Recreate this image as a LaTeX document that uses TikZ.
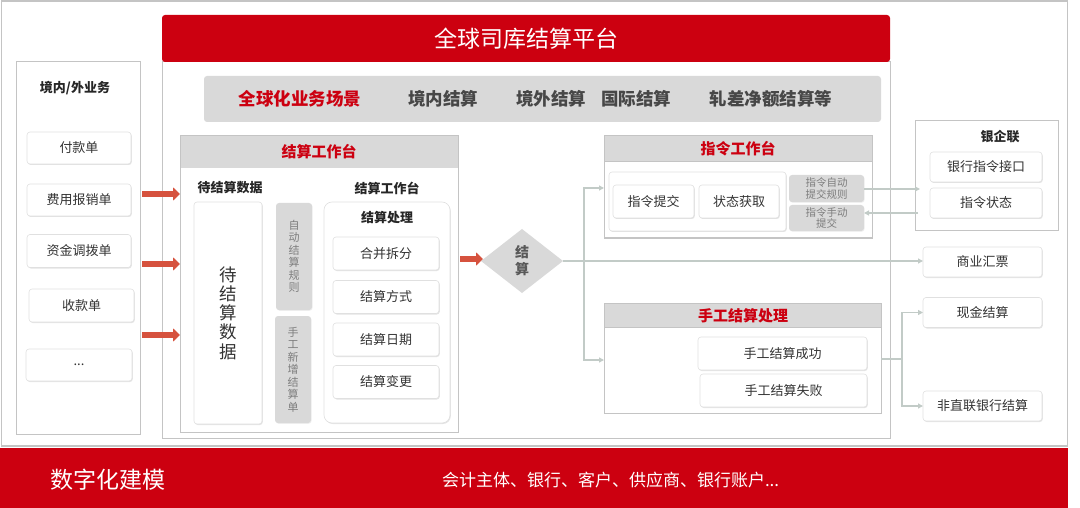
\documentclass[tikz,border=0pt]{standalone}
\usepackage{fontspec}
\setmainfont{Noto Sans CJK SC}
\usetikzlibrary{arrows.meta,shadows,shapes.geometric}
\definecolor{cred}{RGB}{204,0,16}
\definecolor{arrred}{RGB}{214,82,62}
\definecolor{lgray}{RGB}{217,217,217}
\definecolor{fgray}{RGB}{196,196,196}
\definecolor{lc}{RGB}{194,203,199}
\definecolor{txt}{RGB}{51,51,51}
\definecolor{gtxt}{RGB}{125,125,125}
\newcommand{\fsz}[1]{\fontsize{#1}{1.2\dimexpr #1pt\relax}\selectfont}
\newcommand{\fszl}[2]{\fontsize{#1}{#2}\selectfont}
\tikzset{
  every node/.style={inner sep=0pt, outer sep=0pt, text=txt},
  frame/.style={draw=fgray, line width=1pt},
  hdr/.style={fill=lgray},
  hdrtxt/.style={text=cred, font=\bfseries\fsz{15}},
  wbox/.style={draw=black!12, fill=white, rounded corners=3pt, line width=0.6pt,
    drop shadow={opacity=0.22, shadow xshift=0.8pt, shadow yshift=-1pt},
    font=\fsz{13}},
  gbox/.style={fill=lgray, rounded corners=3pt,
    drop shadow={opacity=0.12, shadow xshift=0.6pt, shadow yshift=-0.8pt},
    text=gtxt, align=center},
  lbl/.style={font=\bfseries\fsz{13}, text=black!85},
  scen/.style={font=\bfseries\fsz{17.5}, text=black!72},
  fat/.style={draw=arrred, line width=5.5pt, -{Triangle[length=7pt,width=13pt]}},
  conn/.style={draw=lc, line width=1.2pt, -{Triangle[length=5pt,width=5pt]}},
  plain/.style={draw=lc, line width=1.2pt}
}
\begin{document}
\begin{tikzpicture}[x=1pt,y=-1pt]
\useasboundingbox (0,0) rectangle (1080,508);

% outer frame and bottom band
\node[frame, line width=1.3pt, minimum width=1066pt, minimum height=445pt] (outer) at (534.5,223.5) {};
\node[fill=cred, minimum width=1068pt, minimum height=60pt] (band) at (534,478) {};
\node[text=white, font=\fsz{23}] (bt1) at (108,480) {数字化建模};
\node[text=white, font=\fsz{17}, anchor=west] (bt2) at (442,480) {会计主体、银行、客户、供应商、银行账户...};

% platform
\node[frame, minimum width=728pt, minimum height=376pt] (plat) at (526,250) {};
\node[fill=cred, rounded corners=3pt, minimum width=728pt, minimum height=47pt,
      text=white, font=\fsz{23}] (title) at (526,38.5) {全球司库结算平台};

% scenario bar
\node[fill=lgray, rounded corners=3pt, minimum width=677pt, minimum height=46pt] (scenbar) at (542.5,99) {};
\node[scen, text=cred] (s1) at (300,99) {全球化业务场景};
\node[scen] (s2) at (443,99) {境内结算};
\node[scen] (s3) at (551,99) {境外结算};
\node[scen] (s4) at (636,99) {国际结算};
\node[scen] (s5) at (771,99) {轧差净额结算等};

% left frame
\node[frame, minimum width=124pt, minimum height=372pt] (lf) at (78,248) {};
\node[lbl] (lft) at (75,88) {境内/外业务};
\node[wbox, minimum width=104pt, minimum height=32pt] (p1) at (79,148) {付款单};
\node[wbox, minimum width=104pt, minimum height=32pt] (p2) at (79,200) {费用报销单};
\node[wbox, minimum width=104pt, minimum height=33pt] (p3) at (79,251) {资金调拨单};
\node[wbox, minimum width=105pt, minimum height=33pt] (p4) at (81.5,305.5) {收款单};
\node[wbox, minimum width=106pt, minimum height=32pt] (p5) at (79,365) {...};

% settlement workbench
\node[hdr, minimum width=278pt, minimum height=32pt] (swh) at (319,152) {};
\node[frame, minimum width=278pt, minimum height=296pt] (swf) at (319,284) {};
\node[hdrtxt] (swt) at (319,152) {结算工作台};
\node[lbl] (l1) at (230,188) {待结算数据};
\node[lbl] (l2) at (387,188) {结算工作台};
\node[wbox, minimum width=68pt, minimum height=222pt, align=center, font={\fszl{17.5}{19.3}}] (dj) at (228,313) {待\\结\\算\\数\\据};
\node[gbox, minimum width=36pt, minimum height=107pt, font={\fszl{11}{12.5}}] (auto) at (294,256.5) {自\\动\\结\\算\\规\\则};
\node[gbox, minimum width=36pt, minimum height=107pt, font={\fszl{11}{12.5}}] (man) at (293,369.5) {手\\工\\新\\增\\结\\算\\单};
\node[wbox, rounded corners=8pt, minimum width=126pt, minimum height=221pt] (wb) at (387,312.5) {};
\node[lbl] (l3) at (387,218) {结算处理};
\node[wbox, minimum width=106pt, minimum height=33pt] (c1) at (386,253.5) {合并拆分};
\node[wbox, minimum width=106pt, minimum height=33pt] (c2) at (386,297) {结算方式};
\node[wbox, minimum width=106pt, minimum height=33pt] (c3) at (386,339.5) {结算日期};
\node[wbox, minimum width=106pt, minimum height=33pt] (c4) at (386,382) {结算变更};

% diamond
\node[diamond, fill=lgray, minimum width=82pt, minimum height=64pt, aspect=1.28,
      align=center, font={\bfseries\fszl{14}{17}}, text=black!65] (dm) at (522,261) {结\\算};

% instruction workbench
\node[hdr, minimum width=268pt, minimum height=27pt] (iwh) at (738,148.5) {};
\node[frame, minimum width=268pt, minimum height=76pt] (iwf) at (738,200) {};
\node[draw=fgray, line width=0.8pt, minimum width=268pt, minimum height=103pt] (iwo) at (738,186.5) {};
\node[hdrtxt] (iwt) at (738,148.5) {指令工作台};
\node[wbox, minimum width=177pt, minimum height=59pt] (iin) at (697.5,201.5) {};
\node[wbox, minimum width=81pt, minimum height=33pt] (i1) at (653.5,201.5) {指令提交};
\node[wbox, minimum width=80pt, minimum height=33pt] (i2) at (739,201.5) {状态获取};
\node[gbox, minimum width=75pt, minimum height=27pt, font={\fszl{10.5}{11.5}}] (ra) at (826.5,188.5) {指令自动\\提交规则};
\node[gbox, minimum width=75pt, minimum height=26pt, font={\fszl{10.5}{11.5}}] (rm) at (826.5,218) {指令手动\\提交};

% manual settlement
\node[hdr, minimum width=277pt, minimum height=24pt] (mwh) at (742.5,315) {};
\node[frame, minimum width=277pt, minimum height=86pt] (mwf) at (742.5,370) {};
\node[draw=fgray, line width=0.8pt, minimum width=277pt, minimum height=110pt] (mwo) at (742.5,358) {};
\node[hdrtxt] (mwt) at (743,315.5) {手工结算处理};
\node[wbox, minimum width=169pt, minimum height=33pt] (m1) at (782.5,353.5) {手工结算成功};
\node[wbox, minimum width=167pt, minimum height=33pt] (m2) at (783.5,390.5) {手工结算失败};

% right side
\node[frame, minimum width=143pt, minimum height=110pt] (yql) at (986.5,176) {};
\node[lbl] (yqt) at (1000,137) {银企联};
\node[wbox, minimum width=112pt, minimum height=30pt] (y1) at (986,167) {银行指令接口};
\node[wbox, minimum width=112pt, minimum height=30pt] (y2) at (986,203) {指令状态};
\node[wbox, minimum width=119pt, minimum height=30pt] (shp) at (982.5,262) {商业汇票};
\node[wbox, minimum width=119pt, minimum height=30pt] (cash) at (982.5,312.5) {现金结算};
\node[wbox, minimum width=119pt, minimum height=30pt] (fzl) at (982.5,406) {非直联银行结算};

% red arrows
\draw[fat] ([xshift=2pt]lf.east |- 0,194) -- (swf.west |- 0,194);
\draw[fat] ([xshift=2pt]lf.east |- 0,264) -- (swf.west |- 0,264);
\draw[fat] ([xshift=2pt]lf.east |- 0,335) -- (swf.west |- 0,335);
\draw[fat] ([xshift=2pt]swf.east |- 0,259) -- ([xshift=2pt]dm.west |- 0,259);

% connectors
\coordinate (br) at (584,261);
\draw[conn] (dm.east) -- (dm.east -| shp.west);
\draw[conn] (br) |- (iwf.west |- 0,188);
\draw[conn] (br) |- (mwf.west |- 0,360);
\coordinate (br2) at (902,359);
\draw[plain] (mwf.east |- br2) -- (br2);
\draw[conn] (br2) |- (cash.west);
\draw[conn] (br2) |- (fzl.west);
\draw[conn] (ra.east |- 0,189) -- ([xshift=5pt]yql.west |- 0,189);
\draw[conn] ([xshift=3pt]yql.west |- 0,213) -- (rm.east |- 0,213);
\end{tikzpicture}
\end{document}
